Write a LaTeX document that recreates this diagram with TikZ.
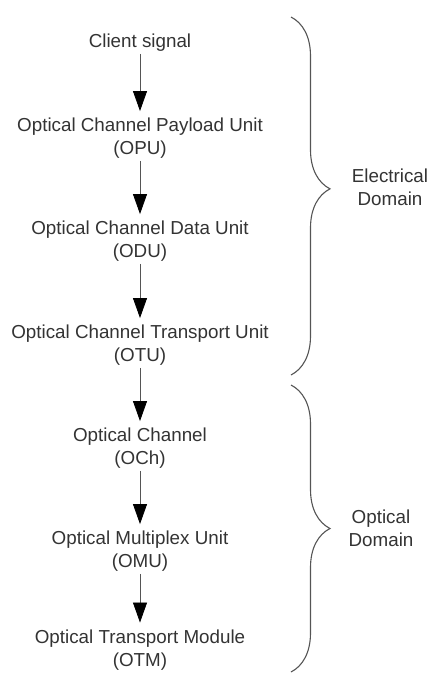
\documentclass[tikz,border=0pt]{standalone}
\usepackage{fontspec}
\setmainfont{Liberation Sans}
\usepackage{tikz}
\usetikzlibrary{arrows.meta, decorations.pathreplacing}
\definecolor{txtgray}{HTML}{333333}
\definecolor{lngray}{HTML}{555555}

\begin{document}
\begin{tikzpicture}[x = 1pt, y = -1pt,
		layer/.style = {align=center, inner sep=0pt, text=txtgray, font=\fontsize{18.8}{23}\selectfont},
		flow/.style = {draw=lngray, line width=0.8pt, shorten >=7pt, shorten <=2pt, -{Triangle[width=14pt,length=20pt,black]}},
		bracedomain/.style = {draw=lngray, line width=1.1pt, decorate, decoration={brace, amplitude=39pt}}]
		\useasboundingbox (0,0) rectangle (429,673);
		\node at (140,43) [layer] (cs100) {Client signal};
		\node at (140,138.5) [layer] (opu100) {Optical Channel Payload Unit\\(OPU)};
		\node at (140,241.5) [layer] (odu100) {Optical Channel Data Unit\\(ODU)};
		\node at (140,345.5) [layer] (otu100) {Optical Channel Transport Unit\\(OTU)};
		\node at (140,448.5) [layer] (och100) {Optical Channel\\(OCh)};
		\node at (140,551.5) [layer] (omu100) {Optical Multiplex Unit\\(OMU)};
		\node at (140,650) [layer] (otm100) {Optical Transport Module\\(OTM)};
		\node at (390,187) [layer] (el100) {Electrical\\Domain};
		\node at (381,528) [layer] (op100) {Optical\\Domain};
		\coordinate (elt100) at (291,17);
		\coordinate (elb100) at (291,375);
		\coordinate (opt100) at (291,385);
		\coordinate (opb100) at (291,672);
		\draw[flow] (cs100) -- (opu100);
		\draw[flow] (opu100) -- (odu100);
		\draw[flow] (odu100) -- (otu100);
		\draw[flow] (otu100) -- (och100);
		\draw[flow] (och100) -- (omu100);
		\draw[flow] (omu100) -- (otm100);
		\draw[bracedomain, decoration={aspect=0.48}] (elt100) -- (elb100);
		\draw[bracedomain] (opt100) -- (opb100);
		\end{tikzpicture}
\end{document}
